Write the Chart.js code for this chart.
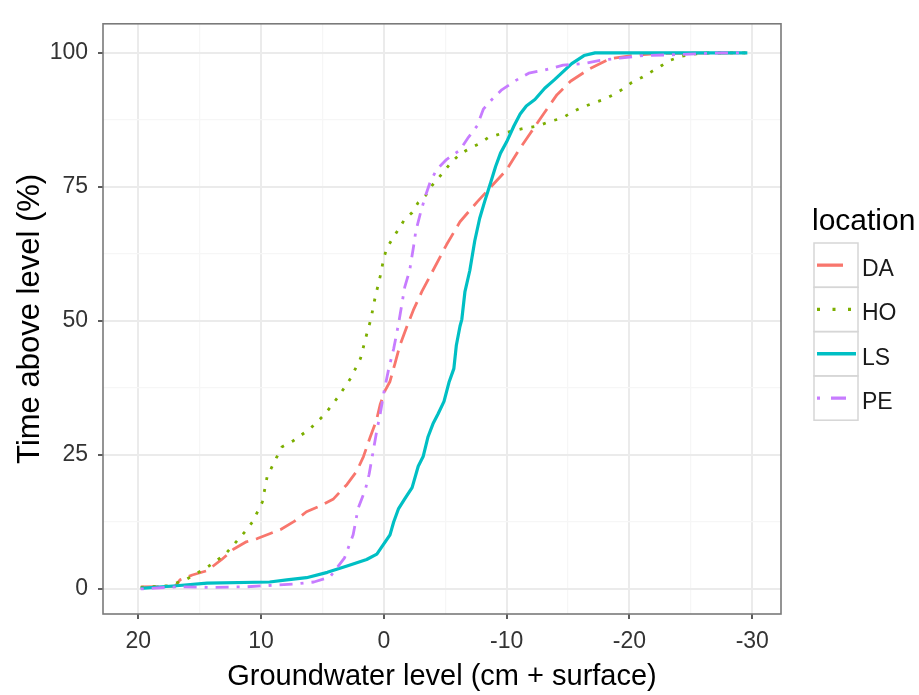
<!DOCTYPE html>
<html lang="en">
<head>
  <meta charset="UTF-8">
  <title>Groundwater level</title>
  <script src="https://cdn.jsdelivr.net/npm/chart.js"></script>
  <style>
    body {
      margin: 0;
      background: #fff;
    }

    .chart-container {
      width: 919px;
      height: 695px;
    }
  </style>
</head>
<body>

<div class="chart-container">
  <canvas id="levelChart" width="919" height="695"></canvas>
</div>

<script>
  const locations = ["DA", "HO", "LS", "PE"];
  const colors = ["#F8766D", "#7CAE00", "#00BFC4", "#C77CFF"];

  // groundwater level (cm) vs % of time the water stood above it
  const daLevel = [19.8, 17.0, 16.6, 15.6, 14.4, 13.2, 12.25, 11.2, 10.3, 9.3, 8.4, 7.3, 6.3, 5.1, 4.1, 3.0, 2.2, 1.66, 1.1, 0.6, 0.3, -0.1, -0.5, -0.9, -1.3, -1.8, -2.4, -3.1, -4.0, -5.1, -6.2, -7.6, -8.8, -10.0, -11.0, -11.9, -13.0, -14.1, -15.2, -16.8, -18.4, -20.6, -22.4, -29.5];
  const daTime = [0.4, 0.5, 1.7, 2.6, 3.4, 5.5, 7.4, 8.8, 9.4, 10.3, 11.1, 12.6, 14.4, 15.6, 16.8, 19.5, 22.0, 24.7, 28.4, 31.5, 34.4, 37.0, 38.7, 42.0, 45.4, 48.5, 52.0, 55.5, 59.4, 64.2, 68.5, 72.2, 75.2, 78.2, 81.9, 84.9, 88.6, 92.2, 94.7, 97.1, 98.9, 99.6, 99.9, 100];

  const hoLevel = [19.8, 17.5, 16.0, 14.4, 12.9, 11.3, 10.7, 9.9, 9.5, 8.7, 8.3, 7.4, 6.0, 4.8, 3.7, 2.7, 1.9, 1.4, 1.06, 0.7, 0.44, 0.22, 0.03, -0.24, -0.7, -1.2, -1.65, -2.3, -2.8, -3.4, -3.9, -4.4, -5.0, -5.5, -6.2, -7.0, -7.8, -8.5, -9.5, -10.6, -11.6, -12.6, -13.5, -14.5, -15.3, -16.1, -16.9, -17.9, -18.7, -19.5, -20.2, -21.0, -21.8, -22.6, -23.3, -24.3, -25.4, -26.5, -29.5];
  const hoTime = [0.3, 0.6, 1.9, 4.0, 6.5, 10.7, 12.5, 16.2, 21.0, 24.7, 26.5, 27.6, 29.9, 32.6, 35.9, 39.3, 43.0, 47.5, 50.3, 54.5, 56.9, 59.1, 61.5, 63.6, 65.3, 67.1, 68.8, 70.2, 72.1, 73.4, 75.2, 76.5, 78.2, 79.6, 81.1, 82.2, 83.1, 84.2, 84.9, 85.5, 86.0, 86.4, 87.2, 87.8, 88.9, 89.8, 90.5, 91.3, 92.2, 93.3, 94.5, 95.4, 96.5, 97.6, 98.6, 99.4, 99.8, 100, 100];

  const lsLevel = [19.8, 16.9, 14.4, 9.3, 7.9, 6.3, 4.6, 3.0, 1.4, 0.57, 0.03, -0.5, -0.8, -1.2, -1.7, -2.3, -2.8, -3.2, -3.6, -4.0, -4.4, -4.9, -5.3, -5.7, -5.9, -6.2, -6.35, -6.6, -7.0, -7.4, -7.8, -8.2, -8.7, -9.1, -9.5, -10.0, -10.6, -11.1, -11.6, -12.3, -13.1, -13.9, -14.6, -15.3, -16.3, -17.2, -29.6];
  const lsTime = [0.1, 0.6, 1.1, 1.3, 1.7, 2.1, 3.1, 4.3, 5.5, 6.5, 8.3, 10.1, 12.5, 15.0, 16.8, 18.9, 22.9, 24.7, 28.4, 30.8, 32.6, 35.0, 38.5, 41.1, 45.4, 49.0, 50.3, 55.4, 59.4, 64.9, 69.1, 72.2, 75.8, 78.8, 81.3, 83.4, 86.4, 88.6, 90.1, 91.3, 93.4, 95.0, 96.5, 98.0, 99.5, 100, 100];

  const peLevel = [19.8, 16.9, 14.1, 11.2, 9.0, 7.4, 5.7, 4.4, 3.2, 2.5, 2.1, 1.5, 1.2, 0.9, 0.57, 0.3, -0.02, -0.4, -0.8, -1.2, -1.7, -2.1, -2.4, -2.6, -3.0, -3.4, -3.8, -4.3, -5.1, -6.2, -6.9, -7.6, -8.1, -8.8, -9.6, -10.7, -11.8, -13.1, -14.6, -16.3, -17.6, -19.2, -21.1, -24.4, -27.4, -29.5];
  const peTime = [0, 0.4, 0.3, 0.4, 0.7, 0.9, 1.3, 2.2, 5.8, 10.1, 15.0, 18.6, 21.4, 25.3, 29.6, 32.6, 36.9, 41.1, 44.8, 49.5, 56.3, 59.4, 63.6, 66.7, 70.3, 73.4, 76.1, 78.2, 80.1, 81.9, 84.3, 86.4, 89.5, 91.3, 93.1, 94.8, 96.2, 96.8, 97.7, 98.0, 98.6, 99.0, 99.5, 99.7, 100, 100];

  const xTicks = [20, 10, 0, -10, -20, -30];
  const yTicks = [0, 25, 50, 75, 100];

  const series = [
    { level: daLevel, time: daTime, dash: [18, 8] },
    { level: hoLevel, time: hoTime, dash: [3, 9] },
    { level: lsLevel, time: lsTime, dash: [] },
    { level: peLevel, time: peTime, dash: [3, 8, 13, 8] }
  ];

  // legend key dash patterns are drawn a bit larger than the lines
  const keyDash = [[26, 20], [3, 12.5], [], [3, 11, 15, 11]];

  const FONT = "'Liberation Sans', Arial, sans-serif";
  Chart.defaults.font.family = FONT;

  // minor grid lines sit halfway between the labelled ticks
  function withMinor(ticks) {
    const out = [];
    ticks.forEach((v, i) => {
      out.push(v);
      if (i < ticks.length - 1) out.push((v + ticks[i + 1]) / 2);
    });
    return out;
  }

  const isMajor = (ticks, v) => ticks.includes(v);

  function gridFor(ticks) {
    return {
      color: c => c.tick && isMajor(ticks, c.tick.value) ? '#EBEBEB' : '#F6F6F6',
      lineWidth: c => c.tick && isMajor(ticks, c.tick.value) ? 2 : 1.2,
      tickColor: c => c.tick && isMajor(ticks, c.tick.value) ? '#333' : 'rgba(0,0,0,0)',
      tickWidth: 1.6,
      tickLength: 5
    };
  }

  const panelFrame = {
    id: 'panelFrame',
    afterDatasetsDraw(chart) {
      const { ctx, chartArea: a } = chart;
      ctx.save();
      ctx.strokeStyle = '#7a7a7a';
      ctx.lineWidth = 1.6;
      ctx.strokeRect(a.left, a.top, a.right - a.left, a.bottom - a.top);
      ctx.restore();
    }
  };

  const keyLegend = {
    id: 'keyLegend',
    afterDraw(chart) {
      const ctx = chart.ctx;
      const left = 814, top = 243, size = 44.3, width = 44;
      ctx.save();
      ctx.fillStyle = '#000';
      ctx.font = '30px ' + FONT;
      ctx.textBaseline = 'alphabetic';
      ctx.fillText('location', 812, 230);

      locations.forEach((name, i) => {
        const y = top + i * size;
        ctx.setLineDash([]);
        ctx.strokeStyle = '#D6D6D6';
        ctx.lineWidth = 1.5;
        ctx.strokeRect(left, y, width, size);

        const cy = y + size / 2;
        ctx.strokeStyle = colors[i];
        ctx.lineWidth = 3.3;
        ctx.lineCap = 'butt';
        ctx.setLineDash(keyDash[i]);
        ctx.beginPath();
        ctx.moveTo(left + 3, cy);
        ctx.lineTo(left + width - 2, cy);
        ctx.stroke();

        ctx.setLineDash([]);
        ctx.fillStyle = '#1a1a1a';
        ctx.font = '23px ' + FONT;
        ctx.fillText(name, 862, cy + 11);
      });
      ctx.restore();
    }
  };

  const ctx = document.getElementById('levelChart').getContext('2d');

  new Chart(ctx, {
    type: 'scatter',
    data: {
      datasets: series.map((s, i) => ({
        label: locations[i],
        data: s.level.map((x, j) => ({ x: x, y: s.time[j] })),
        showLine: true,
        borderColor: colors[i],
        borderWidth: i === 2 ? 3.2 : 2.8,
        borderDash: s.dash,
        borderCapStyle: 'butt',
        borderJoinStyle: 'round',
        pointRadius: 0,
        tension: 0,
        order: locations.length - i
      }))
    },
    options: {
      responsive: false,
      animation: false,
      layout: {
        padding: { top: 11, right: 138, bottom: 0, left: 0 }
      },
      plugins: {
        legend: { display: false },
        tooltip: { enabled: false }
      },
      scales: {
        x: {
          type: 'linear',
          reverse: true,
          min: -32.34,
          max: 22.87,
          afterBuildTicks: scale => {
            scale.ticks = withMinor(xTicks).map(v => ({ value: v }));
          },
          afterFit: scale => { scale.height = 81; },
          border: { display: false },
          grid: gridFor(xTicks),
          ticks: {
            color: '#333',
            font: { size: 23 },
            padding: 9,
            maxRotation: 0,
            autoSkip: false,
            callback: v => xTicks.includes(v) ? String(v) : ''
          },
          title: {
            display: true,
            text: 'Groundwater level (cm + surface)',
            color: '#000',
            font: { size: 29 },
            padding: { top: 0, bottom: 1 }
          }
        },
        y: {
          type: 'linear',
          min: -4.67,
          max: 105.42,
          afterBuildTicks: scale => {
            scale.ticks = withMinor(yTicks).map(v => ({ value: v }));
          },
          afterFit: scale => { scale.width = 103; },
          border: { display: false },
          grid: gridFor(yTicks),
          ticks: {
            color: '#333',
            font: { size: 23 },
            padding: 10,
            autoSkip: false,
            callback: v => yTicks.includes(v) ? String(v) : ''
          },
          title: {
            display: true,
            text: 'Time above level (%)',
            color: '#000',
            font: { size: 31 },
            padding: { top: 12, bottom: 0 }
          }
        }
      }
    },
    plugins: [panelFrame, keyLegend]
  });
</script>

</body>
</html>
